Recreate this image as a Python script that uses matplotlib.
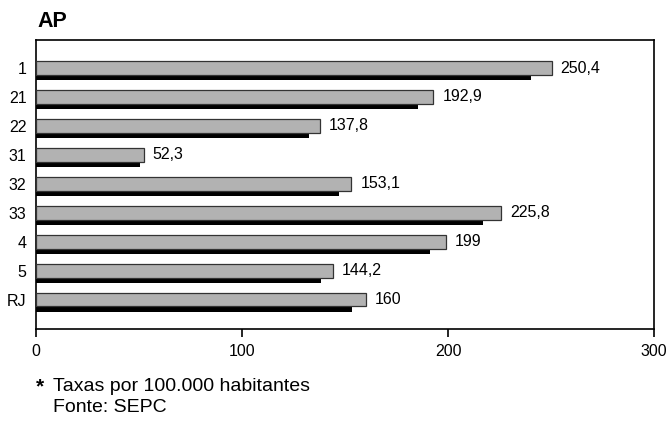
import matplotlib.pyplot as plt
import numpy as np

plt.rcParams['font.family'] = ['Liberation Sans', 'DejaVu Sans']

regions = ['1', '21', '22', '31', '32', '33', '4', '5', 'RJ']
rates = [250.4, 192.9, 137.8, 52.3, 153.1, 225.8, 199, 144.2, 160]
xticks = [0, 100, 200, 300]

fig = plt.figure(figsize=(6.69, 4.21), dpi=100)
ax = fig.add_axes([0.054, 0.2185, 0.9236, 0.6865])

y = np.arange(len(regions))
# black "shadow" bar under each gray bar
ax.barh(y + 0.33, [v * 0.96 for v in rates], height=0.18, color='black', zorder=2)
ax.barh(y, rates, height=0.48, color='#b2b2b2', edgecolor='#333333', linewidth=0.9, zorder=3)

for yi, v in zip(y, rates):
    txt = ('%g' % v).replace('.', ',')
    ax.text(v + 4.3, yi, txt, va='center', ha='left', fontsize=11.5)

ax.set_xlim(0, 300)
ax.set_ylim(len(regions) - 1 + 1.02, -0.97)
ax.set_xticks(xticks)
ax.set_yticks(y)
ax.set_yticklabels(regions, fontsize=11.5)
ax.tick_params(axis='x', labelsize=11.5, length=6, width=1.2, direction='out', pad=5)
ax.tick_params(axis='y', length=0, pad=7)
for s in ax.spines.values():
    s.set_linewidth(1.2)

fig.text(0.056, 0.95, 'AP', fontsize=15.5, fontweight='bold', va='center', ha='left')
fig.text(0.053, 0.082, '*', fontsize=15, fontweight='bold', va='center', ha='left')
fig.text(0.079, 0.083, 'Taxas por 100.000 habitantes', fontsize=14, va='center', ha='left')
fig.text(0.079, 0.033, 'Fonte: SEPC', fontsize=14, va='center', ha='left')

fig.savefig('out.png', dpi=100)
